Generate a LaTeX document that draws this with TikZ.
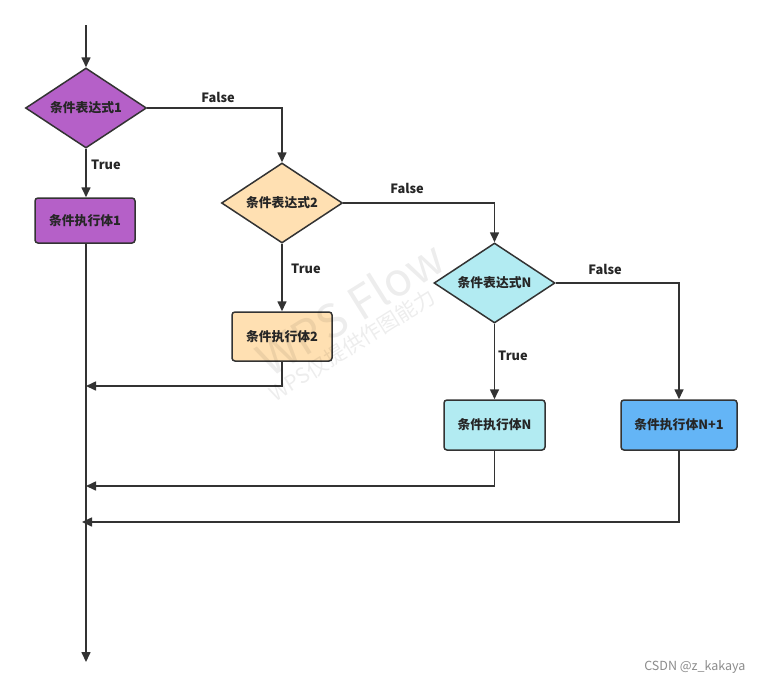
\documentclass[tikz,border=0pt]{standalone}
\usepackage{fontspec}
\setmainfont{Noto Sans CJK SC}
\usetikzlibrary{shapes.geometric,arrows.meta}
\definecolor{cpurple}{HTML}{B560C8}
\definecolor{cpeach}{HTML}{FFE0B2}
\definecolor{ccyan}{HTML}{B2EBF2}
\definecolor{cblue}{HTML}{64B5F6}
\definecolor{cline}{HTML}{333333}
\tikzset{
  dia/.style={diamond, aspect=1.5, draw=cline, line width=1.5pt, inner sep=0pt,
    minimum width=121pt, minimum height=80pt, font=\bfseries\fontsize{12.8}{14}\selectfont, text=black!85},
  blk/.style={rectangle, rounded corners=3pt, draw=cline, line width=1.5pt,
    font=\bfseries\fontsize{12.8}{14}\selectfont, text=black!85},
  arr/.style={draw=cline, line width=1.6pt, -{Triangle[length=10pt,width=9pt]}},
  lbl/.style={font=\bfseries\fontsize{12.8}{14}\selectfont, text=black!85, inner sep=0pt},
  wmark/.style={rotate=32, text=black, opacity=0.07},
}
\begin{document}
\begin{tikzpicture}[x=1pt,y=-1pt]
\useasboundingbox[fill=white] (0,0) rectangle (760,683);

% nodes
\node[dia, fill=cpurple] (d1) at (86,108) {条件表达式1};
\node[blk, fill=cpurple, minimum width=100pt, minimum height=45pt] (b1) at (85,220.5) {条件执行体1};
\node[dia, fill=cpeach] (d2) at (282,203) {条件表达式2};
\node[blk, fill=cpeach, minimum width=100pt, minimum height=49pt] (b2) at (282,336.5) {条件执行体2};
\node[dia, fill=ccyan] (dN) at (494.5,283) {条件表达式N};
\node[blk, fill=ccyan, minimum width=101pt, minimum height=50pt] (bN) at (494.5,425) {条件执行体N};
\node[blk, fill=cblue, minimum width=116pt, minimum height=50pt] (bN1) at (679,425) {条件执行体N+1};

% labels
\node[lbl, anchor=west] (t1) at (91,165) {True};
\node[lbl] (f1) at (218,97) {False};
\node[lbl, anchor=west] (t2) at (291,269) {True};
\node[lbl] (f2) at (407,188) {False};
\node[lbl, anchor=west] (tN) at (498,356) {True};
\node[lbl] (fN) at (605,269) {False};

% coordinates
\coordinate (top) at (86,25);
\coordinate (bot) at (86,662);
\coordinate (j2) at (86,386);
\coordinate (jN) at (86,486);
\coordinate (jN1) at (82,522);

% connectors
\draw[arr] (top) -- (d1.north);
\draw[arr] (d1.south) -- (b1.north -| d1.south);
\draw[arr] (d1.east) -| (d2.north);
\draw[arr] (d2.south) -- (b2.north);
\draw[arr] (d2.east) -| (dN.north);
\draw[arr] (dN.south) -- (bN.north);
\draw[arr] (dN.east) -| (bN1.north);
\draw[arr] (b1.south -| top) -- (bot);
\draw[arr] (b2.south) |- (j2);
\draw[arr] (bN.south) |- (jN);
\draw[arr] (bN1.south) |- (jN1);

% watermark
\node[wmark, font=\fontsize{46}{46}\selectfont] (wm1) at (350,308) {WPS Flow};
\node[wmark, font=\fontsize{21}{21}\selectfont] (wm2) at (352,345) {WPS仅提供作图能力};

\node[text=black!45, font=\fontsize{12.5}{14}\selectfont, anchor=east] (csdn) at (749,667) {CSDN @z\_kakaya};
\end{tikzpicture}
\end{document}
